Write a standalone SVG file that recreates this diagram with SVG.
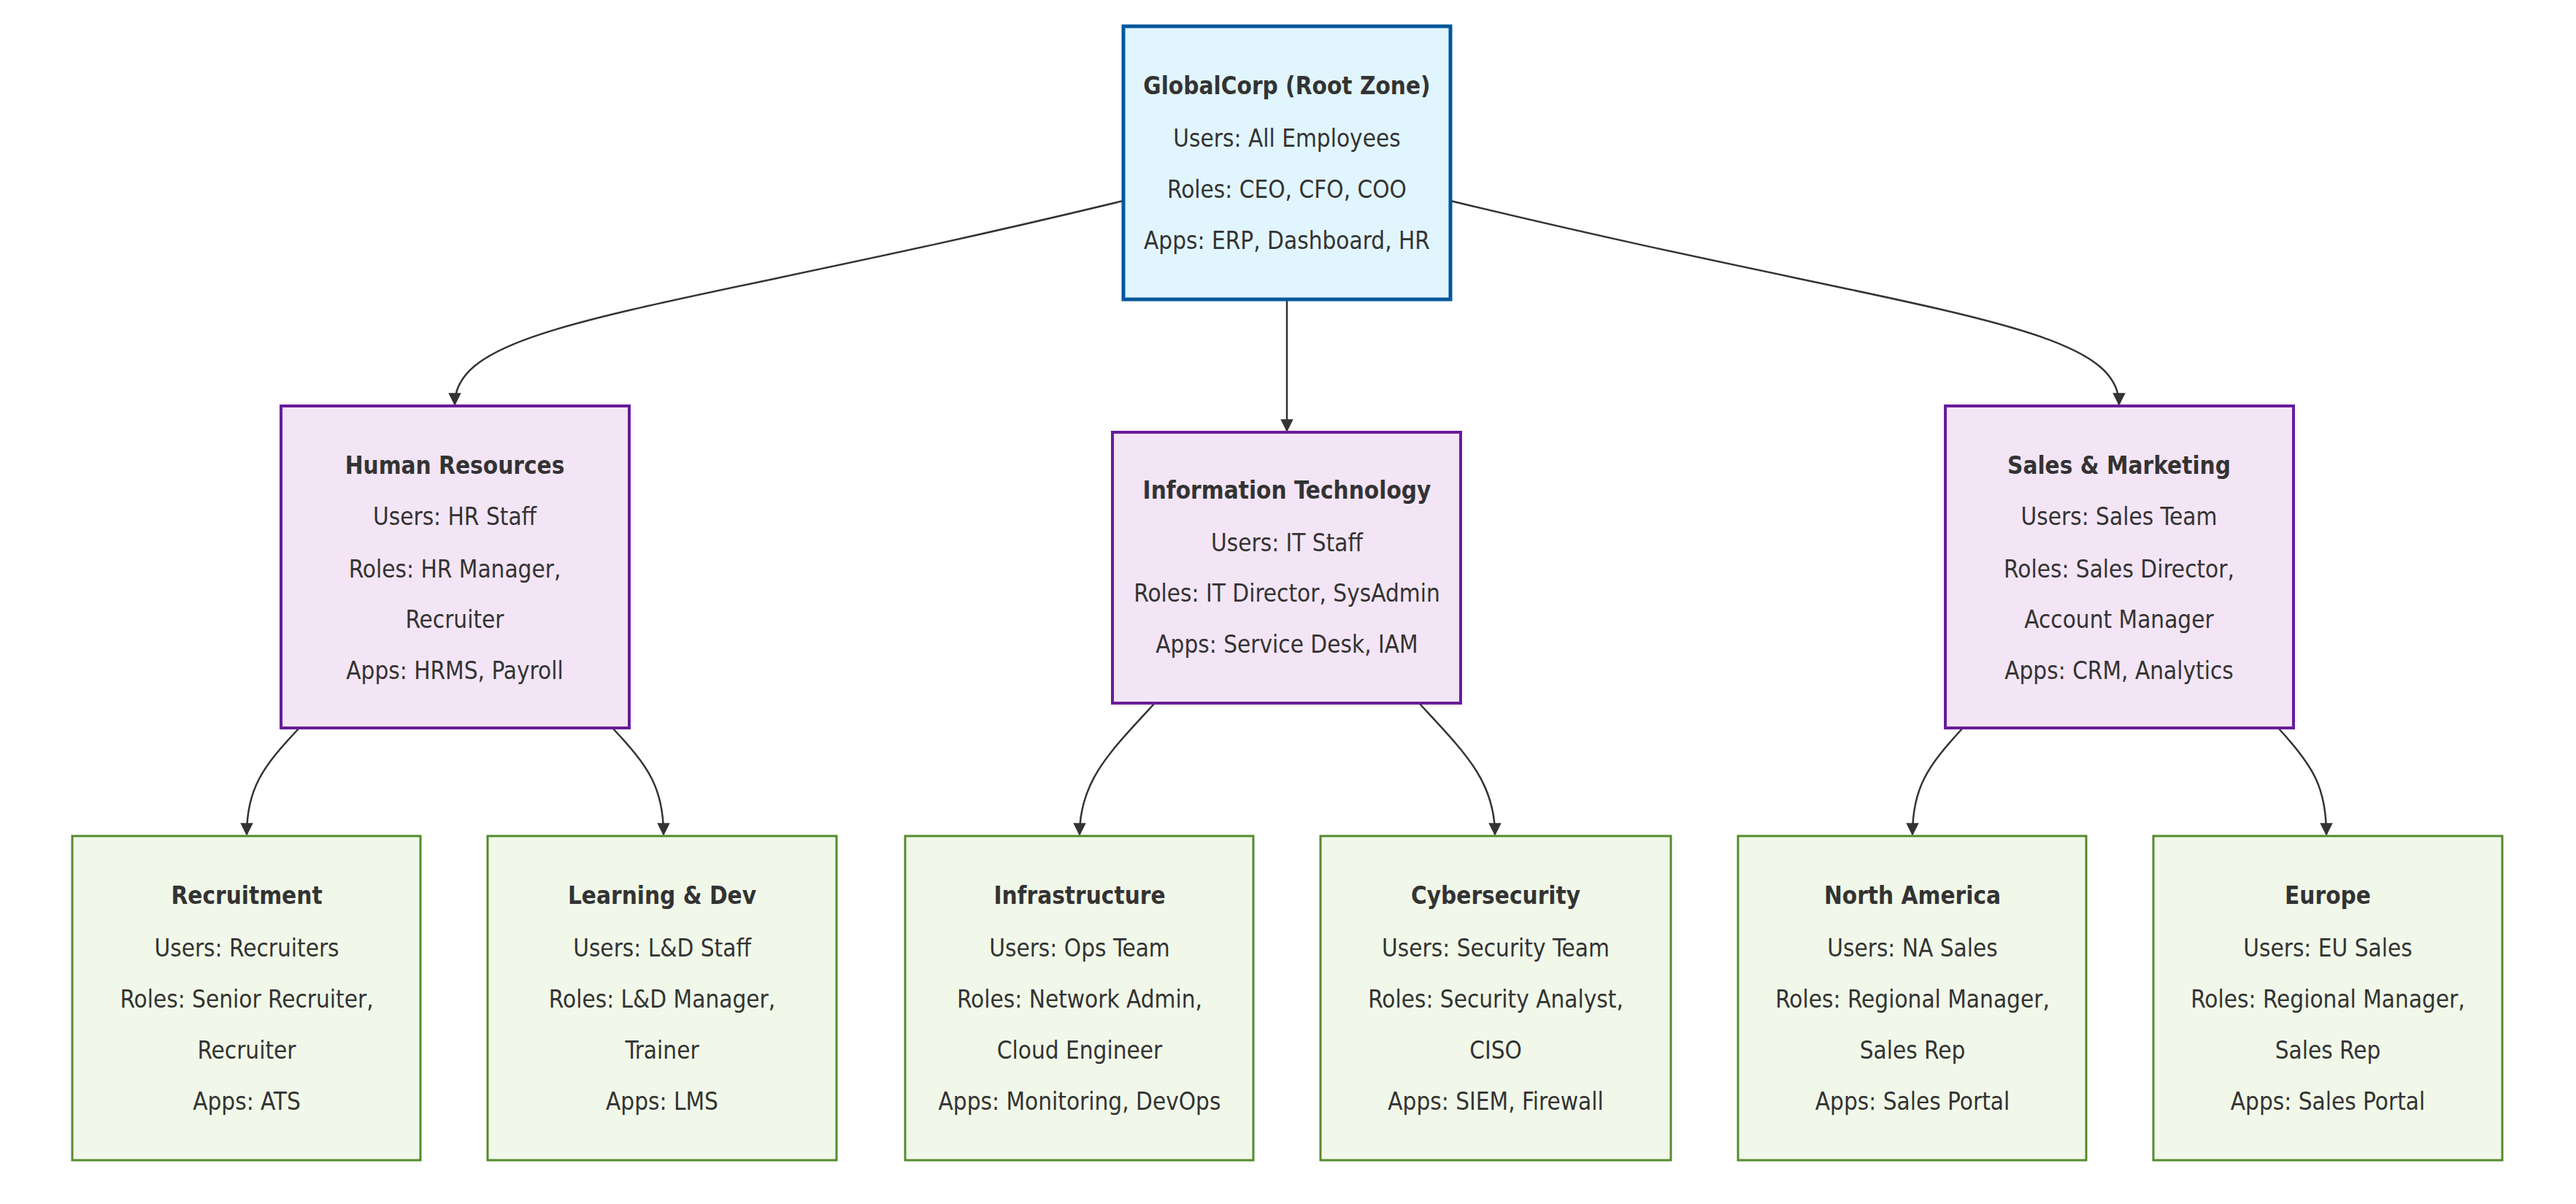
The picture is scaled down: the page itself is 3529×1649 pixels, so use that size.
<svg xmlns="http://www.w3.org/2000/svg" width="3529" height="1649" viewBox="0 0 3529 1649">
<style>
text{font-family:"DejaVu Sans Condensed","DejaVu Sans",sans-serif;font-size:33px;fill:#333;text-anchor:middle;dominant-baseline:central}
.b{font-weight:bold}
.root{fill:#e1f5fe;stroke:#01579b;stroke-width:5}
.mid{fill:#f3e5f5;stroke:#6a1b9a;stroke-width:4}
.leaf{fill:#f1f8e9;stroke:#558b2f;stroke-width:3}
.e{fill:none;stroke:#333;stroke-width:2.5;marker-end:url(#a)}
</style>
<defs><marker id="a" viewBox="0 0 10 10" refX="9" refY="5" markerWidth="7" markerHeight="7" orient="auto"><path d="M0,0L10,5L0,10z" fill="#333"/></marker></defs>
<rect width="3529" height="1649" fill="#fff"/>
<g id="edges">
<path class="e" d="M1539,275 C900,430 623,440 623,554"/>
<path class="e" d="M1763,410 L1763,590"/>
<path class="e" d="M1987,275 C2626,430 2903,440 2903,554"/>
<path class="e" d="M410,997 C360,1050 338,1080 338,1143"/>
<path class="e" d="M839,997 C889,1050 909,1080 909,1143"/>
<path class="e" d="M1582,963 C1520,1030 1479,1070 1479,1143"/>
<path class="e" d="M1944,963 C2006,1030 2048,1070 2048,1143"/>
<path class="e" d="M2689,997 C2640,1050 2620,1080 2620,1143"/>
<path class="e" d="M3121,997 C3170,1050 3187,1080 3187,1143"/>
</g>
<g id="root"><rect class="root" x="1539" y="36" width="448" height="374"/>
<text x="1763" y="117" class="b">GlobalCorp (Root Zone)</text><text x="1763" y="189">Users: All Employees</text><text x="1763" y="259">Roles: CEO, CFO, COO</text><text x="1763" y="329">Apps: ERP, Dashboard, HR</text></g>
<g id="hr"><rect class="mid" x="385" y="556" width="477" height="441"/>
<text x="623" y="637" class="b">Human Resources</text><text x="623" y="707">Users: HR Staff</text><text x="623" y="779">Roles: HR Manager,</text><text x="623" y="848">Recruiter</text><text x="623" y="918">Apps: HRMS, Payroll</text></g>
<g id="it"><rect class="mid" x="1524" y="592" width="477" height="371"/>
<text x="1763" y="671" class="b">Information Technology</text><text x="1763" y="743">Users: IT Staff</text><text x="1763" y="812">Roles: IT Director, SysAdmin</text><text x="1763" y="882">Apps: Service Desk, IAM</text></g>
<g id="sales"><rect class="mid" x="2665" y="556" width="477" height="441"/>
<text x="2903" y="637" class="b">Sales &amp; Marketing</text><text x="2903" y="707">Users: Sales Team</text><text x="2903" y="779">Roles: Sales Director,</text><text x="2903" y="848">Account Manager</text><text x="2903" y="918">Apps: CRM, Analytics</text></g>
<g id="recruitment"><rect class="leaf" x="99" y="1145" width="477" height="444"/>
<text x="338" y="1226" class="b">Recruitment</text><text x="338" y="1298">Users: Recruiters</text><text x="338" y="1368">Roles: Senior Recruiter,</text><text x="338" y="1438">Recruiter</text><text x="338" y="1508">Apps: ATS</text></g>
<g id="ld"><rect class="leaf" x="668" y="1145" width="478" height="444"/>
<text x="907" y="1226" class="b">Learning &amp; Dev</text><text x="907" y="1298">Users: L&amp;D Staff</text><text x="907" y="1368">Roles: L&amp;D Manager,</text><text x="907" y="1438">Trainer</text><text x="907" y="1508">Apps: LMS</text></g>
<g id="infra"><rect class="leaf" x="1240" y="1145" width="477" height="444"/>
<text x="1479" y="1226" class="b">Infrastructure</text><text x="1479" y="1298">Users: Ops Team</text><text x="1479" y="1368">Roles: Network Admin,</text><text x="1479" y="1438">Cloud Engineer</text><text x="1479" y="1508">Apps: Monitoring, DevOps</text></g>
<g id="cyber"><rect class="leaf" x="1809" y="1145" width="480" height="444"/>
<text x="2049" y="1226" class="b">Cybersecurity</text><text x="2049" y="1298">Users: Security Team</text><text x="2049" y="1368">Roles: Security Analyst,</text><text x="2049" y="1438">CISO</text><text x="2049" y="1508">Apps: SIEM, Firewall</text></g>
<g id="na"><rect class="leaf" x="2381" y="1145" width="477" height="444"/>
<text x="2620" y="1226" class="b">North America</text><text x="2620" y="1298">Users: NA Sales</text><text x="2620" y="1368">Roles: Regional Manager,</text><text x="2620" y="1438">Sales Rep</text><text x="2620" y="1508">Apps: Sales Portal</text></g>
<g id="europe"><rect class="leaf" x="2950" y="1145" width="478" height="444"/>
<text x="3189" y="1226" class="b">Europe</text><text x="3189" y="1298">Users: EU Sales</text><text x="3189" y="1368">Roles: Regional Manager,</text><text x="3189" y="1438">Sales Rep</text><text x="3189" y="1508">Apps: Sales Portal</text></g>
</svg>
